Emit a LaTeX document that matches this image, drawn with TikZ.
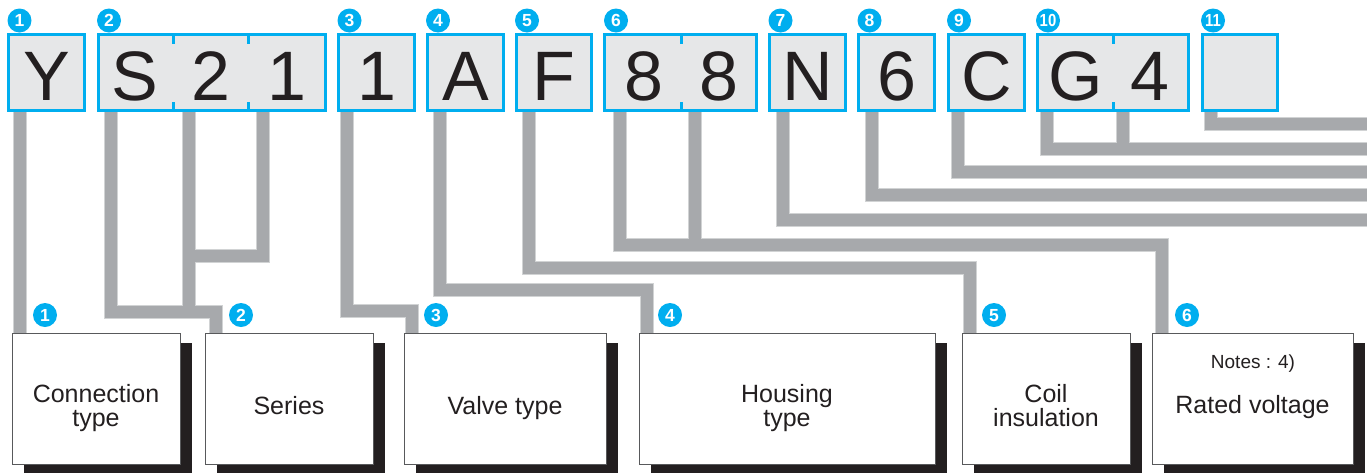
\documentclass[tikz,border=0pt]{standalone}
\usepackage{fontspec}
\setmainfont{Liberation Sans}
\usetikzlibrary{calc,backgrounds,shadows}
\definecolor{cy}{HTML}{00AEEF}
\definecolor{cellfill}{HTML}{E6E7E8}
\definecolor{lgray}{HTML}{A7A9AC}
\definecolor{lgrayedge}{HTML}{D1D3D4}
\definecolor{ink}{HTML}{231F20}
\definecolor{frame}{HTML}{58595B}
\begin{document}
\begin{tikzpicture}[x=1pt,y=-1pt,
  cell/.style={draw=cy, line width=3pt, fill=cellfill, rectangle, inner sep=0pt, outer sep=0pt, minimum height=76pt},
  tick/.style={draw=cy, line width=3pt},
  letter/.style={anchor=base, font=\fontsize{70}{70}\selectfont, text=ink, inner sep=0pt},
  num/.style={circle, fill=cy, text=white, inner sep=0pt, minimum size=24pt, text height=12.5pt, text depth=0pt, font=\fontsize{17.5}{17.5}\selectfont\bfseries},
  box/.style={draw=frame, line width=0.8pt, fill=white, rectangle, inner sep=0pt, outer sep=0pt, minimum height=131pt,
    drop shadow={shadow xshift=11.5pt, shadow yshift=-10pt, fill=ink, opacity=1}},
  lbl/.style={anchor=base, font=\fontsize{25}{25}\selectfont, text=ink, inner sep=0pt},
  note/.style={anchor=base, font=\fontsize{19}{19}\selectfont, text=ink, inner sep=0pt},
  connedge/.style={draw=lgrayedge, line width=14pt},
  conn/.style={draw=lgray, line width=12pt},
]
\useasboundingbox (0,0) rectangle (1367,472);

% code cells
\node[cell, minimum width=76pt]  (cY) at (46.5,72.5) {};
\node[cell, minimum width=227pt] (cS) at (212,72.5) {};
\node[cell, minimum width=76pt]  (cV) at (376.5,72.5) {};
\node[cell, minimum width=76pt]  (cA) at (465.5,72.5) {};
\node[cell, minimum width=75pt]  (cF) at (554,72.5) {};
\node[cell, minimum width=152pt] (cE) at (680.5,72.5) {};
\node[cell, minimum width=76pt]  (cN) at (807.5,72.5) {};
\node[cell, minimum width=76pt]  (cSix) at (896.5,72.5) {};
\node[cell, minimum width=76pt]  (cC) at (986.5,72.5) {};
\node[cell, minimum width=151pt] (cG) at (1113,72.5) {};
\node[cell, minimum width=75pt]  (cX) at (1240,72.5) {};

% divider ticks
\foreach \x in {173.3,248.3,681,1113}{
  \draw[tick] (\x,34.5) -- ++(0,9);
  \draw[tick] (\x,110.5) -- ++(0,-9);
}

% letters
\node[letter] (tY) at (46.5,100) {Y};
\node[letter] (tS) at (134.5,100) {S};
\node[letter] (t2) at (210.5,100) {2};
\node[letter] (t1) at (286.5,100) {1};
\node[letter] (tV) at (376.5,100) {1};
\node[letter] (tA) at (465.5,100) {A};
\node[letter] (tF) at (554,100) {F};
\node[letter] (t8a) at (644,100) {8};
\node[letter] (t8b) at (718.5,100) {8};
\node[letter] (tN) at (807.5,100) {N};
\node[letter] (t6) at (896.5,100) {6};
\node[letter] (tC) at (986.5,100) {C};
\node[letter] (tG) at (1075.5,100) {G};
\node[letter] (t4) at (1150,100) {4};

% top numbers
\node[num] (n1) at (19.5,20.5) {1};
\node[num] (n2) at (109,20.5) {2};
\node[num] (n3) at (349.5,20.5) {3};
\node[num] (n4) at (438,20.5) {4};
\node[num] (n5) at (527,20.5) {5};
\node[num] (n6) at (616,20.5) {6};
\node[num] (n7) at (780.5,20.5) {7};
\node[num] (n8) at (869.5,20.5) {8};
\node[num] (n9) at (959,20.5) {9};
\node[num] (n10) at (1048,20.5) {\scalebox{0.85}[1]{10}};
\node[num] (n11) at (1213,20.5) {\scalebox{0.85}[1]{11}};

% bottom boxes
\node[box, minimum width=168pt] (b1) at (96,398.5) {};
\node[box, minimum width=168pt] (b2) at (289,398.5) {};
\node[box, minimum width=202pt] (b3) at (505,398.5) {};
\node[box, minimum width=296pt] (b4) at (787,398.5) {};
\node[box, minimum width=168pt] (b5) at (1046,398.5) {};
\node[box, minimum width=201pt] (b6) at (1252.5,398.5) {};

% labels
\node[lbl] (l1a) at (96,402) {Connection};
\node[lbl] (l1b) at (96,426) {type};
\node[lbl] (l2) at (289,414) {Series};
\node[lbl] (l3) at (505,414) {Valve type};
\node[lbl] (l4a) at (787,402) {Housing};
\node[lbl] (l4b) at (787,426) {type};
\node[lbl] (l5a) at (1046,402) {Coil};
\node[lbl] (l5b) at (1046,426) {insulation};
\node[note] (l6n) at (1253,368) {Notes : 4)};
\node[lbl] (l6) at (1252.5,413) {Rated voltage};

% bottom numbers
\node[num] (m1) at (45,315) {1};
\node[num] (m2) at (241,315) {2};
\node[num] (m3) at (436,315) {3};
\node[num] (m4) at (670,315) {4};
\node[num] (m5) at (994,315) {5};
\node[num] (m6) at (1187,315) {6};

% connector points
\coordinate (sY) at ($(cY.south west)+(11.5,0)$);
\coordinate (sS) at ($(cS.south west)+(12,0)$);
\coordinate (s2) at ($(cS.south west)+(90,0)$);
\coordinate (s1) at ($(cS.south west)+(164,0)$);
\coordinate (sV) at ($(cV.south west)+(8,0)$);
\coordinate (sA) at ($(cA.south west)+(12,0)$);
\coordinate (sF) at ($(cF.south west)+(12,0)$);
\coordinate (s8a) at ($(cE.south west)+(15,0)$);
\coordinate (s8b) at ($(cE.south west)+(90.5,0)$);
\coordinate (sN) at ($(cN.south west)+(13,0)$);
\coordinate (sSix) at ($(cSix.south west)+(13,0)$);
\coordinate (sC) at ($(cC.south west)+(9,0)$);
\coordinate (sG) at ($(cG.south west)+(9,0)$);
\coordinate (s4) at ($(cG.south west)+(85,0)$);
\coordinate (sX) at ($(cX.south west)+(8,0)$);
\coordinate (e1) at ($(b1.north west)+(8,0)$);
\coordinate (e2) at ($(b2.north west)+(10.5,0)$);
\coordinate (e3) at ($(b3.north west)+(8,0)$);
\coordinate (e4) at ($(b4.north west)+(7.5,0)$);
\coordinate (e5) at ($(b5.north west)+(8,0)$);
\coordinate (e6) at ($(b6.north west)+(10,0)$);
\coordinate (L2a) at (0,256);
\coordinate (L2) at (0,312);
\coordinate (L3) at (0,311);
\coordinate (L4) at (0,290);
\coordinate (L5) at (0,267.5);
\coordinate (L6) at (0,244.5);
\coordinate (L7) at (0,219.5);
\coordinate (L8) at (0,195);
\coordinate (L9) at (0,171.5);
\coordinate (L10) at (0,148.5);
\coordinate (L11) at (0,124);
\coordinate (R) at (1375,0);

\begin{scope}[on background layer]
\foreach \st in {connedge,conn}{
  \path[\st] (sY) -- (e1);
  \path[\st] (sS) |- (L2 -| e2) -- (e2);
  \path[\st] (s2) -- (s2 |- L2);
  \path[\st] (s1) |- (s2 |- L2a);
  \path[\st] (sV) |- (L3 -| e3) -- (e3);
  \path[\st] (sA) |- (L4 -| e4) -- (e4);
  \path[\st] (sF) |- (L5 -| e5) -- (e5);
  \path[\st] (s8a) |- (L6 -| e6) -- (e6);
  \path[\st] (s8b) -- (s8b |- L6);
  \path[\st] (sN) |- (L7 -| R);
  \path[\st] (sSix) |- (L8 -| R);
  \path[\st] (sC) |- (L9 -| R);
  \path[\st] (sG) |- (L10 -| R);
  \path[\st] (s4) -- (s4 |- L10);
  \path[\st] (sX) |- (L11 -| R);
}
\end{scope}
\end{tikzpicture}
\end{document}
